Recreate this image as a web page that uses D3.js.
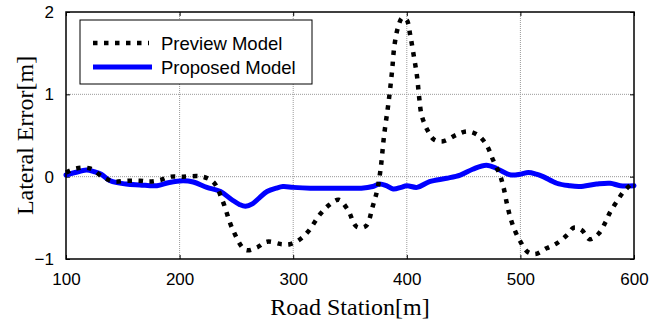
<!DOCTYPE html>
<html>
<head>
<meta charset="utf-8">
<script src="https://cdn.jsdelivr.net/npm/d3@7"></script>
<style>
  body{margin:0;background:#fff;}
  svg{display:block;}
</style>
</head>
<body>
<div id="chart"></div>
<script>
"use strict"

// road station [m] and lateral error [m]
const previewStation=[100,109,121,133,142,153,165,174,183,192,203,220,230,238,247,258,268,277,290,297,305,313,324,332,340,348,356,364,370,374,377,380,384,387,389,392,396,400,403,406,409,411,413,418,424,432,444,453,462,470,476,482,485,488,491,495,500,506,513,523,532,541,547,554,561,569,575,579,585,591,600];
const previewError=[0.05,0.10,0.10,-0.01,-0.06,-0.05,-0.05,-0.06,-0.04,0.0,0.0,0.0,-0.07,-0.30,-0.65,-0.89,-0.86,-0.79,-0.82,-0.82,-0.77,-0.67,-0.45,-0.34,-0.28,-0.40,-0.61,-0.60,-0.36,-0.16,0.10,0.50,0.91,1.28,1.58,1.80,1.93,1.90,1.72,1.48,1.22,0.95,0.75,0.57,0.45,0.43,0.51,0.55,0.51,0.39,0.20,0.02,-0.12,-0.32,-0.49,-0.65,-0.79,-0.91,-0.94,-0.87,-0.81,-0.71,-0.62,-0.65,-0.76,-0.69,-0.55,-0.43,-0.30,-0.18,-0.06];

const proposedStation=[100,108,118,125,131,139,153,165,180,191,203,212,224,236,246,253,258,264,270,277,285,291,300,315,340,360,370,376,382,388,395,400,409,420,435,447,458,470,479,486,492,500,507,514,520,532,543,552,567,579,588,600];
const proposedError=[0.02,0.05,0.08,0.06,0.03,-0.05,-0.09,-0.10,-0.11,-0.07,-0.05,-0.065,-0.13,-0.18,-0.28,-0.34,-0.36,-0.33,-0.26,-0.18,-0.14,-0.12,-0.13,-0.14,-0.14,-0.14,-0.12,-0.09,-0.11,-0.15,-0.13,-0.11,-0.13,-0.06,-0.02,0.02,0.09,0.14,0.10,0.05,0.02,0.03,0.05,0.03,0.0,-0.08,-0.11,-0.12,-0.09,-0.08,-0.11,-0.11];

const xTicks=[100,200,300,400,500,600];
const yTicks=[-1,0,1,2];
const legendLabels=["Preview Model","Proposed Model"];

const W=652,H=320;
const margin={top:12,right:18,bottom:61,left:66};
const iw=W-margin.left-margin.right;
const ih=H-margin.top-margin.bottom;

const svg=d3.select("#chart").append("svg").attr("width",W).attr("height",H);
const g=svg.append("g").attr("transform",`translate(${margin.left},${margin.top})`);

const x=d3.scaleLinear().domain([100,600]).range([0,iw]);
const y=d3.scaleLinear().domain([-1,2]).range([ih,0]);

//grid
g.append("g").selectAll("line").data(xTicks.slice(1,-1)).enter().append("line")
  .attr("x1",d=>x(d)).attr("x2",d=>x(d)).attr("y1",0).attr("y2",ih)
  .attr("stroke","#9a9a9a").attr("stroke-dasharray","1,1");
g.append("g").selectAll("line").data(yTicks.slice(1,-1)).enter().append("line")
  .attr("y1",d=>y(d)).attr("y2",d=>y(d)).attr("x1",0).attr("x2",iw)
  .attr("stroke","#9a9a9a").attr("stroke-dasharray","1,1");

//axes with inward ticks
const tickFont="'Liberation Sans', Arial, sans-serif";
function styleAxis(sel){
  sel.select(".domain").remove();
  sel.selectAll(".tick line").attr("stroke","#000");
  sel.selectAll("text").attr("fill","#000").style("font-family",tickFont).style("font-size","17px");
}
g.append("g").attr("transform",`translate(0,${ih})`)
  .call(d3.axisBottom(x).tickValues(xTicks).tickSizeInner(-4).tickSizeOuter(0).tickPadding(14))
  .call(styleAxis);
g.append("g")
  .call(d3.axisLeft(y).tickValues(yTicks).tickSizeInner(-4).tickSizeOuter(0).tickPadding(12).tickFormat(d3.format("d")))
  .call(styleAxis);
g.append("g")
  .call(d3.axisTop(x).tickValues(xTicks).tickSizeInner(-4).tickSizeOuter(0).tickFormat(""))
  .call(styleAxis);
g.append("g").attr("transform",`translate(${iw},0)`)
  .call(d3.axisRight(y).tickValues(yTicks).tickSizeInner(-4).tickSizeOuter(0).tickFormat(""))
  .call(styleAxis);

// lines
const line=d3.line().x(d=>x(d[0])).y(d=>y(d[1])).curve(d3.curveCatmullRom.alpha(0.5));
const proposed=d3.zip(proposedStation,proposedError);
const preview=d3.zip(previewStation,previewError);

g.append("path").datum(proposed).attr("d",line)
  .attr("fill","none").attr("stroke","#0000ff").attr("stroke-width",5)
  .attr("stroke-linejoin","round").attr("stroke-linecap","round");
g.append("path").datum(preview).attr("d",line)
  .attr("fill","none").attr("stroke","#000").attr("stroke-width",4.5)
  .attr("stroke-dasharray","4.5,6.5");

//frame
g.append("rect").attr("width",iw).attr("height",ih)
  .attr("fill","none").attr("stroke","#000").attr("stroke-width",1.5);

//legend
const leg=svg.append("g").attr("transform","translate(80,20)");
leg.append("rect").attr("width",232).attr("height",64)
  .attr("fill","#fff").attr("stroke","#000").attr("stroke-width",1);
const legStyles=[
  {stroke:"#000",width:4.5,dash:"4.5,6.5",len:56},
  {stroke:"#0000ff",width:5,dash:null,len:59}
];
legendLabels.forEach(function(label,i){
  const yy=23+i*24;
  leg.append("line").attr("x1",13).attr("x2",13+legStyles[i].len).attr("y1",yy).attr("y2",yy)
    .attr("stroke",legStyles[i].stroke).attr("stroke-width",legStyles[i].width)
    .attr("stroke-dasharray",legStyles[i].dash);
  leg.append("text").attr("x",81).attr("y",yy).attr("dy","0.36em")
    .style("font-family",tickFont).style("font-size","18.5px").text(label);
});

//axis titles
svg.append("text").attr("x",margin.left+iw/2).attr("y",315).attr("text-anchor","middle")
  .style("font-family","'Liberation Serif', 'Times New Roman', serif").style("font-size","24px")
  .text("Road Station[m]");
svg.append("text").attr("transform",`translate(33,${margin.top+ih/2}) rotate(-90)`).attr("text-anchor","middle")
  .style("font-family","'Liberation Serif', 'Times New Roman', serif").style("font-size","24px")
  .text("Lateral Error[m]");
</script>
</body>
</html>
